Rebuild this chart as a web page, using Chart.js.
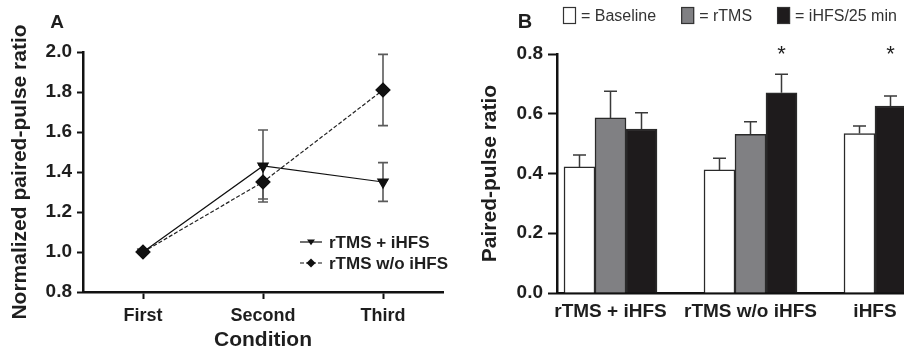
<!DOCTYPE html>
<html><head><meta charset="utf-8">
<script src="https://cdn.jsdelivr.net/npm/chart.js@4.4.1/dist/chart.umd.min.js"></script>
<style>
html,body{margin:0;padding:0;background:#fff;}
#wrap{position:relative;width:904px;height:353px;overflow:hidden;background:#fff;}
#ca{position:absolute;left:0;top:0;}
#cb{position:absolute;left:460px;top:0;}
</style></head><body>
<div id="wrap"><canvas id="ca" width="460" height="353"></canvas><canvas id="cb" width="444" height="353"></canvas></div>
<script>
// ---------- Panel A data ----------
const conditions = ['First', 'Second', 'Third'];
const seriesNamesA = ['rTMS + iHFS', 'rTMS w/o iHFS'];
const withIHFS = [1.00, 1.43, 1.35];
const withIHFSErr = [0, 0.18, 0.097];
const withoutIHFS = [1.00, 1.35, 1.81];
const withoutIHFSErr = [0, 0.085, 0.178];
const yTicksA = [0.8, 1.0, 1.2, 1.4, 1.6, 1.8, 2.0];

// ---------- Panel B data ----------
const groupsB = ['rTMS + iHFS', 'rTMS w/o iHFS', 'iHFS'];
const seriesNamesB = ['Baseline', 'rTMS', 'iHFS/25 min'];
const baseline = [0.422, 0.412, 0.534];
const baselineErr = [0.040, 0.039, 0.025];
const rtms = [0.586, 0.531, null];
const rtmsErr = [0.089, 0.042, null];
const ihfs = [0.549, 0.670, 0.626];
const ihfsErr = [0.054, 0.062, 0.033];
const baselineSig = [false, false, false];
const rtmsSig = [false, false, false];
const ihfsSig = [false, true, true];
const yTicksB = [0.0, 0.2, 0.4, 0.6, 0.8];

// ---------- styles ----------
const FONT = "'Liberation Sans', Arial, Helvetica, sans-serif";
const TXT = '#1e1e1e';
const colorsB = ['#ffffff', '#808083', '#1e1b1c'];
const BAR_PX = 31;

Chart.defaults.font.family = FONT;
Chart.defaults.color = TXT;

// ================= Panel A =================
const errorBarsA = {
  id: 'errA',
  beforeDatasetsDraw(chart) {
    const ctx = chart.ctx, ys = chart.scales.y;
    chart.data.datasets.forEach((ds, di) => {
      const meta = chart.getDatasetMeta(di);
      ds.errors.forEach((e, i) => {
        if (!e) return;
        const x = meta.data[i].x, v = ds.data[i];
        const yt = ys.getPixelForValue(v + e), yb = ys.getPixelForValue(v - e);
        ctx.save();
        ctx.strokeStyle = '#5a5a5a'; ctx.lineWidth = 1.6;
        ctx.beginPath();
        ctx.moveTo(x, yt); ctx.lineTo(x, yb);
        ctx.moveTo(x - 5, yt); ctx.lineTo(x + 5, yt);
        ctx.moveTo(x - 5, yb); ctx.lineTo(x + 5, yb);
        ctx.stroke(); ctx.restore();
      });
    });
  }
};
function drawMarker(ctx, style, x, y, r) {
  ctx.beginPath();
  if (style === 'tri') {
    ctx.moveTo(x - r, y - r * 0.6); ctx.lineTo(x + r, y - r * 0.6); ctx.lineTo(x, y + r * 0.8);
  } else {
    ctx.moveTo(x, y - r); ctx.lineTo(x + r, y); ctx.lineTo(x, y + r); ctx.lineTo(x - r, y);
  }
  ctx.closePath(); ctx.fillStyle = '#111'; ctx.fill();
}
const legendA = {
  id: 'legA',
  afterDraw(chart) {
    const ctx = chart.ctx;
    ctx.save();
    ctx.font = 'bold 19px ' + FONT; ctx.fillStyle = TXT;
    ctx.textAlign = 'center'; ctx.textBaseline = 'middle';
    ctx.fillText('A', 57, 23);
    const rows = [242, 263];
    chart.data.datasets.forEach((ds, i) => {
      const y = rows[i];
      ctx.strokeStyle = '#111'; ctx.lineWidth = 1.2;
      ctx.setLineDash(ds.borderDash || []);
      ctx.beginPath(); ctx.moveTo(300, y); ctx.lineTo(322, y); ctx.stroke();
      ctx.setLineDash([]);
      drawMarker(ctx, i === 0 ? 'tri' : 'dia', 311, y, i === 0 ? 4 : 4.5);
      ctx.font = 'bold 17px ' + FONT; ctx.fillStyle = TXT;
      ctx.textAlign = 'left'; ctx.textBaseline = 'middle';
      ctx.fillText(ds.label, 329, y + 1);
    });
    ctx.restore();
  }
};

new Chart(document.getElementById('ca'), {
  type: 'line',
  data: {
    labels: conditions,
    datasets: [
      { label: seriesNamesA[0], data: withIHFS, errors: withIHFSErr,
        borderColor: '#111', borderWidth: 1.2, pointStyle: 'triangle', rotation: 180,
        pointRadius: 6, pointBackgroundColor: '#111', pointBorderColor: '#111', tension: 0 },
      { label: seriesNamesA[1], data: withoutIHFS, errors: withoutIHFSErr,
        borderColor: '#222', borderWidth: 1.2, borderDash: [4, 2], pointStyle: 'rectRot',
        pointRadius: 7, pointBackgroundColor: '#111', pointBorderColor: '#111', tension: 0 }
    ]
  },
  options: {
    responsive: false, animation: false, devicePixelRatio: 1,
    layout: { padding: { top: 52, right: 17, left: 0, bottom: 0 } },
    plugins: { legend: { display: false }, tooltip: { enabled: false } },
    scales: {
      x: {
        type: 'category', offset: true,
        grid: { drawOnChartArea: false, drawTicks: true, tickLength: 7, tickColor: '#111', tickWidth: 2, offset: false },
        border: { display: true, color: '#111', width: 2.5 },
        ticks: { font: { size: 18, weight: 'bold' }, color: TXT, padding: 6, maxRotation: 0 },
        title: { display: true, text: 'Condition', font: { size: 21, weight: 'bold' }, color: TXT, padding: { top: 0, bottom: 0 } },
        afterFit: s => { s.height = 61; }
      },
      y: {
        min: 0.8, max: 2.0,
        afterBuildTicks: s => { s.ticks = yTicksA.map(v => ({ value: v })); },
        grid: { drawOnChartArea: false, drawTicks: true, tickLength: 6, tickColor: '#111', tickWidth: 2 },
        border: { display: true, color: '#111', width: 2.5 },
        ticks: { font: { size: 19, weight: 'bold' }, color: TXT, padding: 5, callback: v => Number(v).toFixed(1) },
        title: { display: true, text: 'Normalized paired-pulse ratio', font: { size: 21, weight: 'bold' }, color: TXT, padding: { top: 8, bottom: 0 } },
        afterFit: s => { s.width = 83; }
      }
    }
  },
  plugins: [errorBarsA, legendA]
});

// ================= Panel B =================
const seriesB = [
  { values: baseline, errs: baselineErr, sig: baselineSig },
  { values: rtms, errs: rtmsErr, sig: rtmsSig },
  { values: ihfs, errs: ihfsErr, sig: ihfsSig }
];
const SLOTS = seriesB.length;
// bars of each group, packed from the left (a missing series leaves no gap)
const filled = groupsB.map((g, gi) => seriesB
  .map((s, si) => ({ si, v: s.values[gi], e: s.errs[gi], sig: s.sig[gi] }))
  .filter(o => o.v !== null && o.v !== undefined));

const CHART_B_LEFT = 97, CHART_B_W = 444 - 97, PX_PER_GROUP = 140;
const X_MIN = -53.5 / PX_PER_GROUP;
const X_MAX = X_MIN + CHART_B_W / PX_PER_GROUP;
const SLOT_FRAC = BAR_PX / PX_PER_GROUP;

const datasetsB = [];
for (let slot = 0; slot < SLOTS; slot++) {
  datasetsB.push({
    data: groupsB.map((g, gi) => ({ x: gi, y: filled[gi][slot] ? filled[gi][slot].v : null })),
    errs: groupsB.map((g, gi) => filled[gi][slot] ? filled[gi][slot].e : null),
    sig: groupsB.map((g, gi) => filled[gi][slot] ? filled[gi][slot].sig : false),
    backgroundColor: groupsB.map((g, gi) => filled[gi][slot] ? colorsB[filled[gi][slot].si] : 'rgba(0,0,0,0)'),
    borderColor: '#2a2a2a', borderWidth: 1.5, borderSkipped: 'bottom'
  });
}

const errorBarsB = {
  id: 'errB',
  afterDatasetsDraw(chart) {
    const ctx = chart.ctx, ys = chart.scales.y;
    ctx.save();
    chart.data.datasets.forEach((ds, di) => {
      const meta = chart.getDatasetMeta(di);
      ds.errs.forEach((e, i) => {
        if (e === null || e === undefined) return;
        const bar = meta.data[i];
        const v = ds.data[i].y;
        const y0 = ys.getPixelForValue(v), y1 = ys.getPixelForValue(v + e);
        ctx.strokeStyle = '#3a3a3a'; ctx.lineWidth = 1.5;
        ctx.beginPath();
        ctx.moveTo(bar.x, y0); ctx.lineTo(bar.x, y1);
        ctx.moveTo(bar.x - 6.5, y1); ctx.lineTo(bar.x + 6.5, y1);
        ctx.stroke();
        if (ds.sig[i]) {
          ctx.fillStyle = TXT; ctx.font = '22px ' + FONT;
          ctx.textAlign = 'center'; ctx.textBaseline = 'middle';
          ctx.fillText('*', bar.x, chart.chartArea.top + 1);
        }
      });
    });
    ctx.restore();
  }
};
const legendB = {
  id: 'legB',
  afterDraw(chart) {
    const ctx = chart.ctx;
    ctx.save();
    ctx.font = 'bold 20px ' + FONT; ctx.fillStyle = TXT;
    ctx.textAlign = 'center'; ctx.textBaseline = 'middle';
    ctx.fillText('B', 65, 22);
    let x = 103; const y0 = 7, bw = 13, bh = 17;
    ctx.font = '16px ' + FONT;
    ctx.textAlign = 'left';
    seriesNamesB.forEach((n, i) => {
      ctx.fillStyle = colorsB[i]; ctx.fillRect(x, y0, bw, bh);
      ctx.strokeStyle = '#333'; ctx.lineWidth = 1.2; ctx.strokeRect(x + 0.5, y0 + 0.5, bw - 1, bh - 1);
      const t = '= ' + n;
      ctx.fillStyle = '#333';
      ctx.fillText(t, x + bw + 5, y0 + bh / 2 + 1);
      x += bw + 5 + ctx.measureText(t).width + 25;
    });
    ctx.restore();
  }
};

new Chart(document.getElementById('cb'), {
  type: 'bar',
  data: { datasets: datasetsB },
  options: {
    responsive: false, animation: false, devicePixelRatio: 1,
    layout: { padding: { top: 54, right: 0, left: 0, bottom: 0 } },
    plugins: { legend: { display: false }, tooltip: { enabled: false } },
    datasets: { bar: { barThickness: BAR_PX, grouped: true } },
    scales: {
      x: {
        type: 'linear', min: X_MIN, max: X_MAX, offset: false,
        afterBuildTicks: s => { s.ticks = groupsB.map((g, gi) => ({ value: gi - (SLOTS - filled[gi].length) * SLOT_FRAC / 2 })); },
        grid: { display: false, drawTicks: false, tickLength: 0 },
        border: { display: true, color: '#111', width: 2.5 },
        ticks: { font: { size: 19, weight: 'bold' }, color: TXT, padding: 7, maxRotation: 0, autoSkip: false,
                 callback: (v, i) => groupsB[i] },
        afterFit: s => { s.height = 60; }
      },
      y: {
        min: 0, max: 0.8,
        afterBuildTicks: s => { s.ticks = yTicksB.map(v => ({ value: v })); },
        grid: { drawOnChartArea: false, drawTicks: true, tickLength: 9, tickColor: '#111', tickWidth: 2 },
        border: { display: true, color: '#111', width: 2.5 },
        ticks: { font: { size: 19, weight: 'bold' }, color: TXT, padding: 5, callback: v => Number(v).toFixed(1) },
        title: { display: true, text: 'Paired-pulse ratio', font: { size: 21, weight: 'bold' }, color: TXT, padding: { top: 18, bottom: 0 } },
        afterFit: s => { s.width = CHART_B_LEFT; }
      }
    }
  },
  plugins: [errorBarsB, legendB]
});
</script>
</body></html>
